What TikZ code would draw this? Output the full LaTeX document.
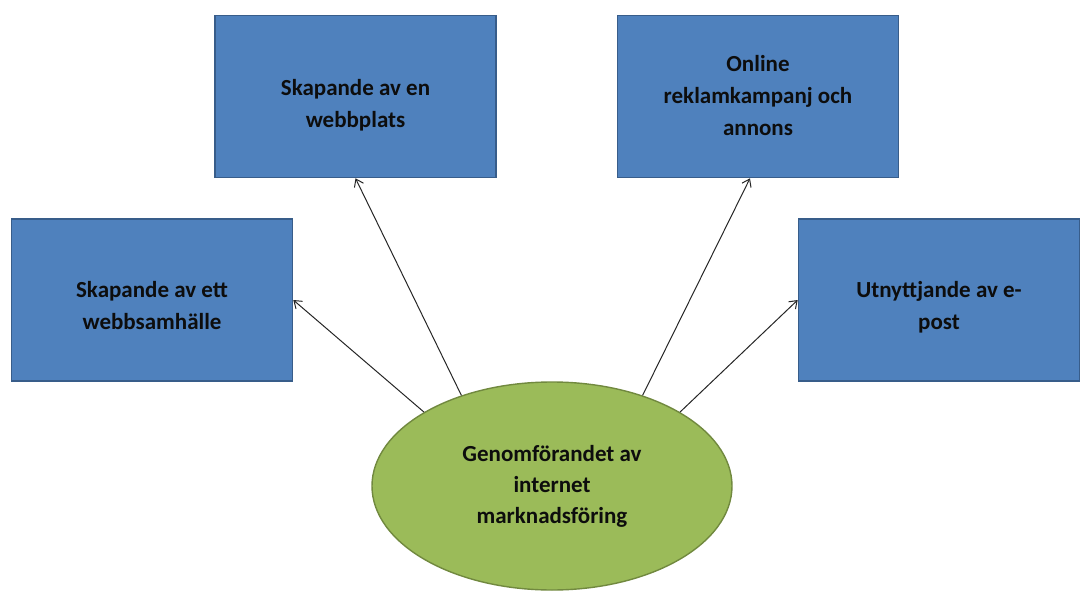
\documentclass[tikz,border=0pt]{standalone}
\usepackage{fontspec}
\setmainfont{Carlito}
\usetikzlibrary{shapes.geometric,arrows.meta}
\definecolor{boxfill}{HTML}{4F81BD}
\definecolor{boxline}{HTML}{385D8A}
\definecolor{ellfill}{HTML}{9BBB59}
\definecolor{ellline}{HTML}{71893F}
\tikzset{
  blockbox/.style={rectangle, draw=boxline, line width=1.6pt, fill=boxfill,
    minimum width=281pt, minimum height=162pt, inner sep=0pt},
  boxtext/.style={inner sep=0pt, align=center,
    font=\fontsize{23}{32}\selectfont\bfseries, text=black!95},
  centreell/.style={ellipse, draw=ellline, line width=1.4pt, fill=ellfill,
    minimum width=360pt, minimum height=208pt, inner sep=0pt, align=center,
    font=\fontsize{23}{31}\selectfont\bfseries, text=black!95},
  arr/.style={draw=black!85, line width=1pt, -{Straight Barb[length=7pt,width=10pt,line width=1pt]}}
}
\begin{document}
\begin{tikzpicture}[x=1pt,y=-1pt]
\useasboundingbox (0,0) rectangle (1080,592);
\node[blockbox] (A) at (355.5,96.5) {};
\node[blockbox] (B) at (758,96.5) {};
\node[blockbox] (C) at (152,300) {};
\node[blockbox] (D) at (939,300) {};
\node[boxtext] (At) at ([yshift=-9pt]A.center) {Skapande av en\\webbplats};
\node[boxtext] (Bt) at ([yshift=1pt]B.center) {Online\\reklamkampanj och\\annons};
\node[boxtext] (Ct) at ([yshift=-6pt]C.center) {Skapande av ett\\webbsamhälle};
\node[boxtext] (Dt) at ([yshift=-7pt]D.center) {Utnyttjande av e-\\post};
\node[centreell] (E) at (552,486) {Genomförandet av\\internet\\marknadsföring};
\draw[arr] (E.150) -- (C.east);
\draw[arr] (E.135) -- (A.south);
\draw[arr] (E.45) -- ([xshift=-8pt]B.south);
\draw[arr] (E.30) -- (D.west);
\end{tikzpicture}
\end{document}
